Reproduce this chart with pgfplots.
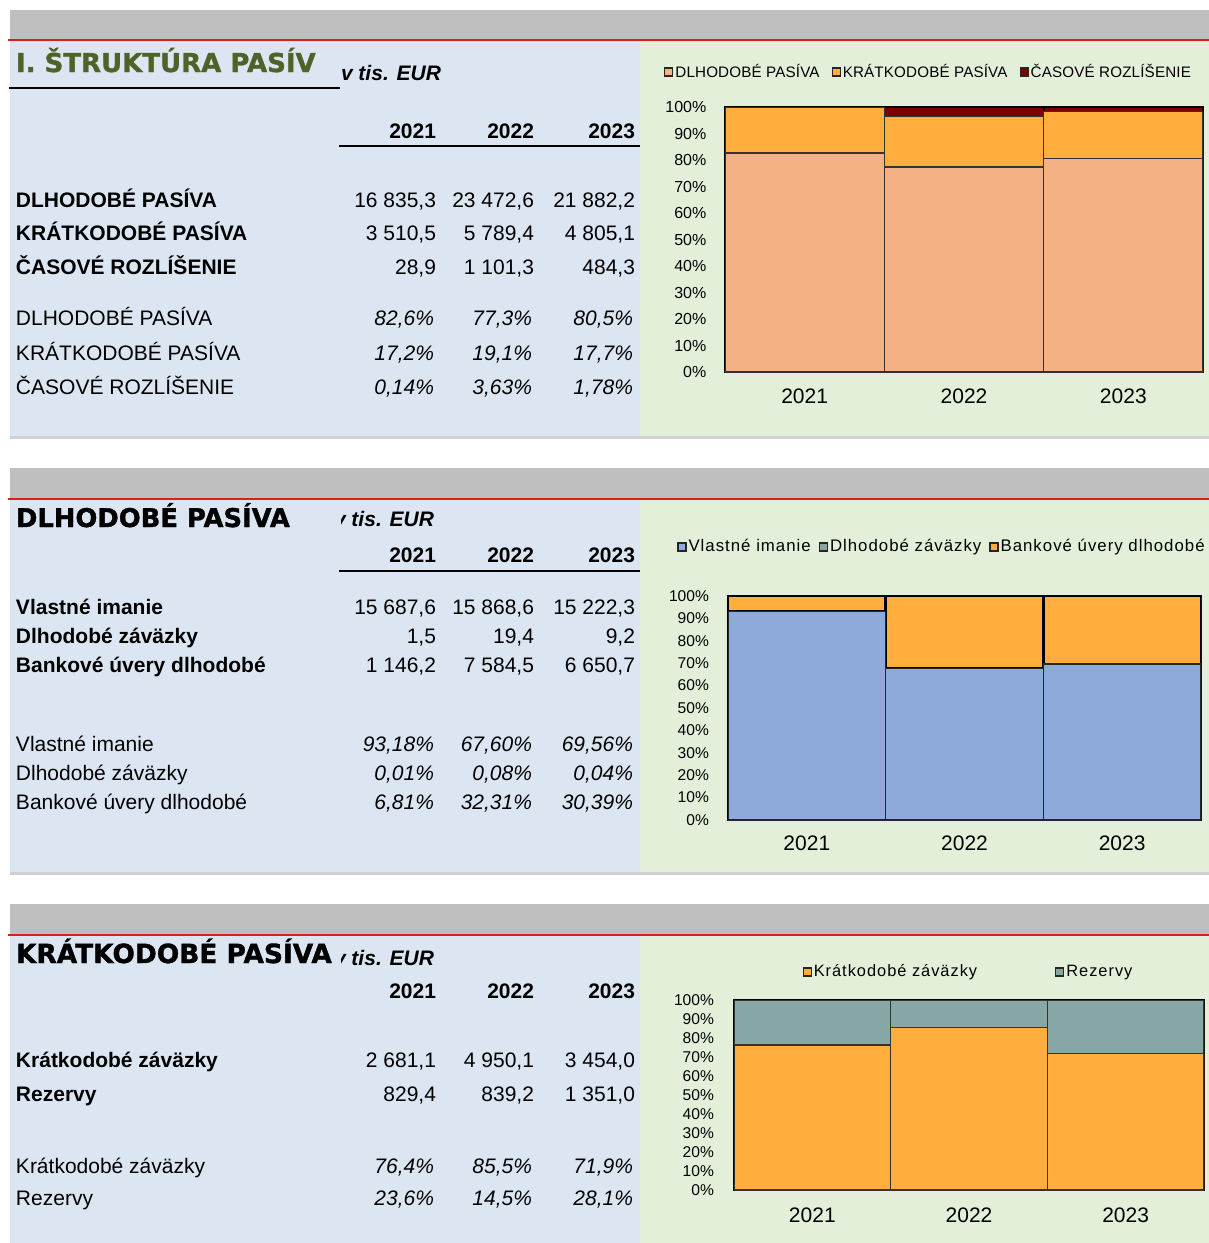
\documentclass[border=0pt]{standalone}
\usepackage{fontspec}
\setmainfont{Liberation Sans}
\newfontfamily\titlefont{DejaVu Sans}[BoldFeatures={FakeBold=1.2}]
\newfontfamily\legfont{Liberation Sans}[LetterSpace=6]
\newfontfamily\legfontA{Liberation Sans}[LetterSpace=1]
\usepackage{pgfplots}
\pgfplotsset{compat=1.18}
\definecolor{bandgray}{HTML}{BFBFBF}
\definecolor{redline}{HTML}{DC1E1E}
\definecolor{bgblue}{HTML}{DCE6F2}
\definecolor{bggreen}{HTML}{E4EFDA}
\definecolor{olive}{HTML}{4F6228}
\definecolor{salmon}{HTML}{F4B183}
\definecolor{orng}{HTML}{FFAE3D}
\definecolor{darkred}{HTML}{7B0000}
\definecolor{blu}{HTML}{8EAADB}
\definecolor{tealgray}{HTML}{87A6A6}

\pgfplotsset{
  mybars/.style={
    scale only axis, anchor=south west,
    ybar stacked, bar width=1,
    xmin=0.5, xmax=3.5, ymin=0, ymax=100, enlargelimits=false,
    xtick={1,2,3}, xticklabels={2021,2022,2023},
    ytick={0,10,20,30,40,50,60,70,80,90,100},
    yticklabels={0\%,10\%,20\%,30\%,40\%,50\%,60\%,70\%,80\%,90\%,100\%},
    major tick length=0pt,
    axis line style={black, line width=1pt},
    xticklabel style={font=\fontsize{10.5}{12}\selectfont},
    yticklabel style={font=\fontsize{8}{9}\selectfont},
    legend columns=-1,
    legend style={draw=none, fill=none, inner sep=0pt, anchor=west,
      nodes={inner sep=1pt}},
  },
  sq legend/.style={legend image code/.code={%
    \draw[##1,/tikz/.cd,draw=black!85,line width=0.6pt] (0pt,-2pt) rectangle (4pt,2pt);}},
}

\newcommand{\tfont}{\fontsize{10.5}{12}\selectfont}
% three right-aligned values on one baseline
\newcommand{\vals}[4]{%
  \node[t,anchor=base east] at (436,#1) {#2};
  \node[t,anchor=base east] at (534,#1) {#3};
  \node[t,anchor=base east] at (635,#1) {#4};}
\newcommand{\pcts}[4]{%
  \node[t,anchor=base east] at (434,#1) {\itshape #2};
  \node[t,anchor=base east] at (532,#1) {\itshape #3};
  \node[t,anchor=base east] at (633,#1) {\itshape #4};}
\newcommand{\years}[1]{%
  \node[t,anchor=base east] at (436,#1) {\bfseries 2021};
  \node[t,anchor=base east] at (534,#1) {\bfseries 2022};
  \node[t,anchor=base east] at (635,#1) {\bfseries 2023};}
% panel background: band top, red line y, bottom
\newcommand{\panel}[3]{%
  \fill[bandgray] (10,#1) rectangle (1209,#2);
  \fill[bgblue] (10,#2) rectangle (640,#3);
  \fill[bggreen] (640,#2) rectangle (1209,#3);
  \draw[redline,line width=1pt] (8,#2) -- (1209,#2);
  \draw[black!18,line width=1.5pt] (10,#3) -- (1209,#3);}

\begin{document}
\begin{tikzpicture}[x=0.5pt,y=-0.5pt,t/.style={inner sep=0pt,outer sep=0pt,font=\tfont}]
\useasboundingbox (0,0) rectangle (1209,1243);
\clip (0,0) rectangle (1209,1243);

\panel{10}{40}{437}
\panel{468}{499}{873}
\panel{904}{935}{1246}

% ---------- panel 1 ----------
\node[t,anchor=base west,font=\titlefont\bfseries\fontsize{13}{14}\selectfont,text=olive] at (16,72) {I. ŠTRUKTÚRA PASÍV};
\draw[black,line width=1pt] (9,88) -- (340,88);
\node[t,anchor=base west] at (341,80) {\bfseries\itshape v tis. EUR};
\years{138}
\draw[black,line width=1pt] (339,146) -- (640,146);
\node[t,anchor=base west] at (16,207) {\bfseries DLHODOBÉ PASÍVA};
\node[t,anchor=base west] at (16,240) {\bfseries KRÁTKODOBÉ PASÍVA};
\node[t,anchor=base west] at (16,274) {\bfseries ČASOVÉ ROZLÍŠENIE};
\vals{207}{16 835,3}{23 472,6}{21 882,2}
\vals{240}{3 510,5}{5 789,4}{4 805,1}
\vals{274}{28,9}{1 101,3}{484,3}
\node[t,anchor=base west] at (16,325) {DLHODOBÉ PASÍVA};
\node[t,anchor=base west] at (16,360) {KRÁTKODOBÉ PASÍVA};
\node[t,anchor=base west] at (16,394) {ČASOVÉ ROZLÍŠENIE};
\pcts{325}{82,6\%}{77,3\%}{80,5\%}
\pcts{360}{17,2\%}{19,1\%}{17,7\%}
\pcts{394}{0,14\%}{3,63\%}{1,78\%}

% ---------- panel 2 ----------
\node[t,anchor=base west,font=\titlefont\bfseries\fontsize{12.9}{14}\selectfont] at (16,527) {DLHODOBÉ PASÍVA};
\begin{scope}
\clip (341,500) rectangle (640,540);
\node[t,anchor=base west] at (334,526) {\bfseries\itshape v tis. EUR};
\end{scope}
\years{562}
\draw[black,line width=1pt] (339,571) -- (640,571);
\node[t,anchor=base west] at (16,614) {\bfseries Vlastné imanie};
\node[t,anchor=base west] at (16,643) {\bfseries Dlhodobé záväzky};
\node[t,anchor=base west] at (16,672) {\bfseries Bankové úvery dlhodobé};
\vals{614}{15 687,6}{15 868,6}{15 222,3}
\vals{643}{1,5}{19,4}{9,2}
\vals{672}{1 146,2}{7 584,5}{6 650,7}
\node[t,anchor=base west] at (16,751) {Vlastné imanie};
\node[t,anchor=base west] at (16,780) {Dlhodobé záväzky};
\node[t,anchor=base west] at (16,809) {Bankové úvery dlhodobé};
\pcts{751}{93,18\%}{67,60\%}{69,56\%}
\pcts{780}{0,01\%}{0,08\%}{0,04\%}
\pcts{809}{6,81\%}{32,31\%}{30,39\%}

% ---------- panel 3 ----------
\node[t,anchor=base west,font=\titlefont\bfseries\fontsize{13.2}{14}\selectfont] at (16,963) {KRÁTKODOBÉ PASÍVA};
\begin{scope}
\clip (341,936) rectangle (640,980);
\node[t,anchor=base west] at (334,965) {\bfseries\itshape v tis. EUR};
\end{scope}
\years{998}
\node[t,anchor=base west] at (16,1067) {\bfseries Krátkodobé záväzky};
\node[t,anchor=base west] at (16,1101) {\bfseries Rezervy};
\vals{1067}{2 681,1}{4 950,1}{3 454,0}
\vals{1101}{829,4}{839,2}{1 351,0}
\node[t,anchor=base west] at (16,1173) {Krátkodobé záväzky};
\node[t,anchor=base west] at (16,1205) {Rezervy};
\pcts{1173}{76,4\%}{85,5\%}{71,9\%}
\pcts{1205}{23,6\%}{14,5\%}{28,1\%}

% ---------- charts (positions in pt: px/2, y negative) ----------
\begin{scope}[x=1cm,y=1cm]
\begin{axis}[mybars, at={(362.5pt,-186pt)}, width=239pt, height=132.5pt,
  xticklabel style={yshift=-4.7pt}, yticklabel style={xshift=-5.8pt},
  legend style={at={(-0.128,1.132)}, font=\legfontA\fontsize{7.6}{9}\selectfont,
    /tikz/every even column/.append style={column sep=5pt}}]
\addplot[fill=salmon, draw=black!80, line width=0.7pt, sq legend] coordinates {(1,82.6) (2,77.3) (3,80.5)};
\addplot[fill=orng, draw=black!80, line width=0.7pt, sq legend] coordinates {(1,17.2) (2,19.1) (3,17.7)};
\addplot[fill=darkred, draw=black, line width=1pt, sq legend] coordinates {(1,0.14) (2,3.63) (3,1.78)};
\legend{DLHODOBÉ PASÍVA, KRÁTKODOBÉ PASÍVA, ČASOVÉ ROZLÍŠENIE}
\end{axis}

\begin{axis}[mybars, at={(364pt,-410pt)}, width=236.5pt, height=112pt,
  yticklabel style={font=\fontsize{7.8}{9}\selectfont, xshift=-6pt},
  xticklabel style={yshift=-4.2pt},
  legend style={at={(-0.108,1.219)}, font=\legfont\fontsize{8.4}{10}\selectfont,
    /tikz/every even column/.append style={column sep=3pt}}]
\addplot[fill=blu, draw=black!85, line width=0.7pt, sq legend] coordinates {(1,93.18) (2,67.60) (3,69.56)};
\addplot[fill=tealgray, draw=black, line width=1pt, sq legend] coordinates {(1,0.01) (2,0.08) (3,0.04)};
\addplot[fill=orng, draw=black, line width=1.2pt, sq legend] coordinates {(1,6.81) (2,32.31) (3,30.39)};
\legend{Vlastné imanie, Dlhodobé záväzky, Bankové úvery dlhodobé}
\end{axis}

\begin{axis}[mybars, at={(367pt,-595pt)}, width=235pt, height=95pt,
  yticklabel style={font=\fontsize{7.8}{9}\selectfont, xshift=-6.5pt},
  xticklabel style={yshift=-5.2pt},
  legend style={at={(0.145,1.147)}, font=\legfont\fontsize{8.2}{10}\selectfont,
    /tikz/every even column/.append style={column sep=38pt}}]
\addplot[fill=orng, draw=black!80, line width=0.7pt, sq legend] coordinates {(1,76.4) (2,85.5) (3,71.9)};
\addplot[fill=tealgray, draw=black!80, line width=0.7pt, sq legend] coordinates {(1,23.6) (2,14.5) (3,28.1)};
\legend{Krátkodobé záväzky, Rezervy}
\end{axis}
\end{scope}
\end{tikzpicture}
\end{document}
